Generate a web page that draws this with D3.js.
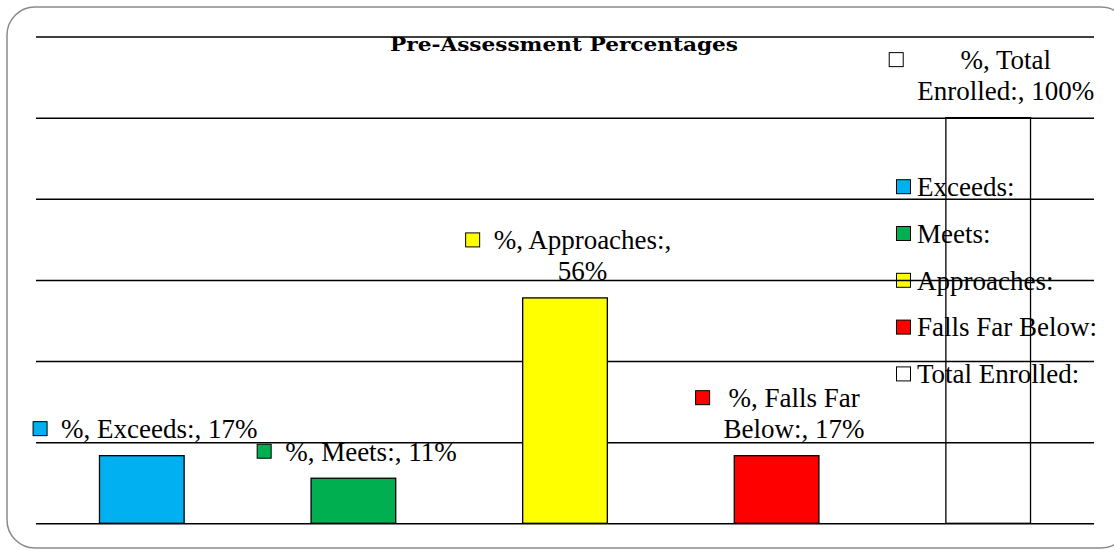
<!DOCTYPE html>
<html>
<head>
<meta charset="utf-8">
<script src="https://cdn.jsdelivr.net/npm/d3@7"></script>
<style>
  html, body { margin: 0; padding: 0; background: #fff; }
  svg { display: block; }
  text { font-family: "Liberation Serif", "Times New Roman", serif; fill: #000; }
</style>
</head>
<body>
<svg id="chart" width="1114" height="550"></svg>
<script>
// ---- data ----
const categories = ["Exceeds:", "Meets:", "Approaches:", "Falls Far Below:", "Total Enrolled:"];
const values = [16.67, 11.11, 55.56, 16.67, 100];
const colors = ["#00B0F0", "#00B050", "#FFFF00", "#FF0000", "#FFFFFF"];
const labelLines = [
  ["%, Exceeds:, 17%"],
  ["%, Meets:, 11%"],
  ["%, Approaches:,", "56%"],
  ["%, Falls Far", "Below:, 17%"],
  ["%, Total", "Enrolled:, 100%"]
];
const yTicks = [0, 20, 40, 60, 80, 100, 120];
const title = "Pre-Assessment Percentages";

// ---- drawing ----
const svg = d3.select("#chart");

// outer rounded frame (extends beyond right edge like reference)
svg.append("rect")
  .attr("x", 7).attr("y", 7)
  .attr("width", 1122).attr("height", 541)
  .attr("rx", 28).attr("ry", 28)
  .attr("fill", "#fff")
  .attr("stroke", "#8a8a8a")
  .attr("stroke-width", 1.5);

const plot = { left: 36, right: 1094, top: 36.5, bottom: 523.3 };

const x = d3.scaleBand()
  .domain(categories)
  .range([plot.left, plot.right])
  .paddingInner(0.6)
  .paddingOuter(0.3);

const y = d3.scaleLinear()
  .domain([0, 120])
  .range([plot.bottom, plot.top]);

// legend (drawn beneath gridlines & bars)
const legend = svg.append("g");
const legendTop = 186.7, legendStep = 46.8;
categories.forEach((c, i) => {
  const cy = legendTop + i * legendStep;
  legend.append("rect")
    .attr("x", 896.5).attr("y", cy - 7)
    .attr("width", 14).attr("height", 14)
    .attr("fill", colors[i])
    .attr("stroke", "#000").attr("stroke-width", 1);
  legend.append("text")
    .attr("x", 917).attr("y", cy + 9.3)
    .attr("font-size", 27)
    .text(c);
});

// gridlines via axis
const grid = svg.append("g")
  .attr("transform", `translate(${plot.left},0)`)
  .call(d3.axisLeft(y)
    .tickValues(yTicks)
    .tickSize(-(plot.right - plot.left))
    .tickFormat(""));
grid.select(".domain").remove();
grid.selectAll(".tick line")
  .attr("stroke", "#000")
  .attr("stroke-width", 1.5);

// bars (white "Total" bar is drawn as an outline only)
svg.append("g").selectAll("rect")
  .data(values)
  .join("rect")
  .attr("x", (d, i) => x(categories[i]))
  .attr("y", d => y(d))
  .attr("width", x.bandwidth())
  .attr("height", d => y(0) - y(d))
  .attr("fill", (d, i) => colors[i] === "#FFFFFF" ? "none" : colors[i])
  .attr("stroke", "#000")
  .attr("stroke-width", 1.3);

// title
svg.append("text")
  .attr("x", (plot.left + plot.right) / 2 - 1)
  .attr("y", 51)
  .attr("text-anchor", "middle")
  .style("font-family", "'DejaVu Serif', serif")
  .attr("font-size", 18)
  .attr("font-weight", "bold")
  .attr("textLength", 348)
  .attr("lengthAdjust", "spacingAndGlyphs")
  .text(title);

// data labels with legend keys
const labels = svg.append("g");
const lineH = 31;
values.forEach((v, i) => {
  const cx = x(categories[i]) + x.bandwidth() / 2 + 17.5;
  const lines = labelLines[i];
  const lastBase = y(v) - 17.5;
  const firstBase = lastBase - (lines.length - 1) * lineH;
  let minLeft = Infinity;
  lines.forEach((t, j) => {
    const tx = labels.append("text")
      .attr("x", cx)
      .attr("y", firstBase + j * lineH)
      .attr("text-anchor", "middle")
      .attr("font-size", 27)
      .text(t);
    const w = tx.node().getComputedTextLength();
    minLeft = Math.min(minLeft, cx - w / 2);
  });
  labels.append("rect")
    .attr("x", minLeft - 28)
    .attr("y", firstBase - 9.5 - 7)
    .attr("width", 14).attr("height", 14)
    .attr("fill", colors[i])
    .attr("stroke", "#000").attr("stroke-width", 1);
});
</script>
</body>
</html>
